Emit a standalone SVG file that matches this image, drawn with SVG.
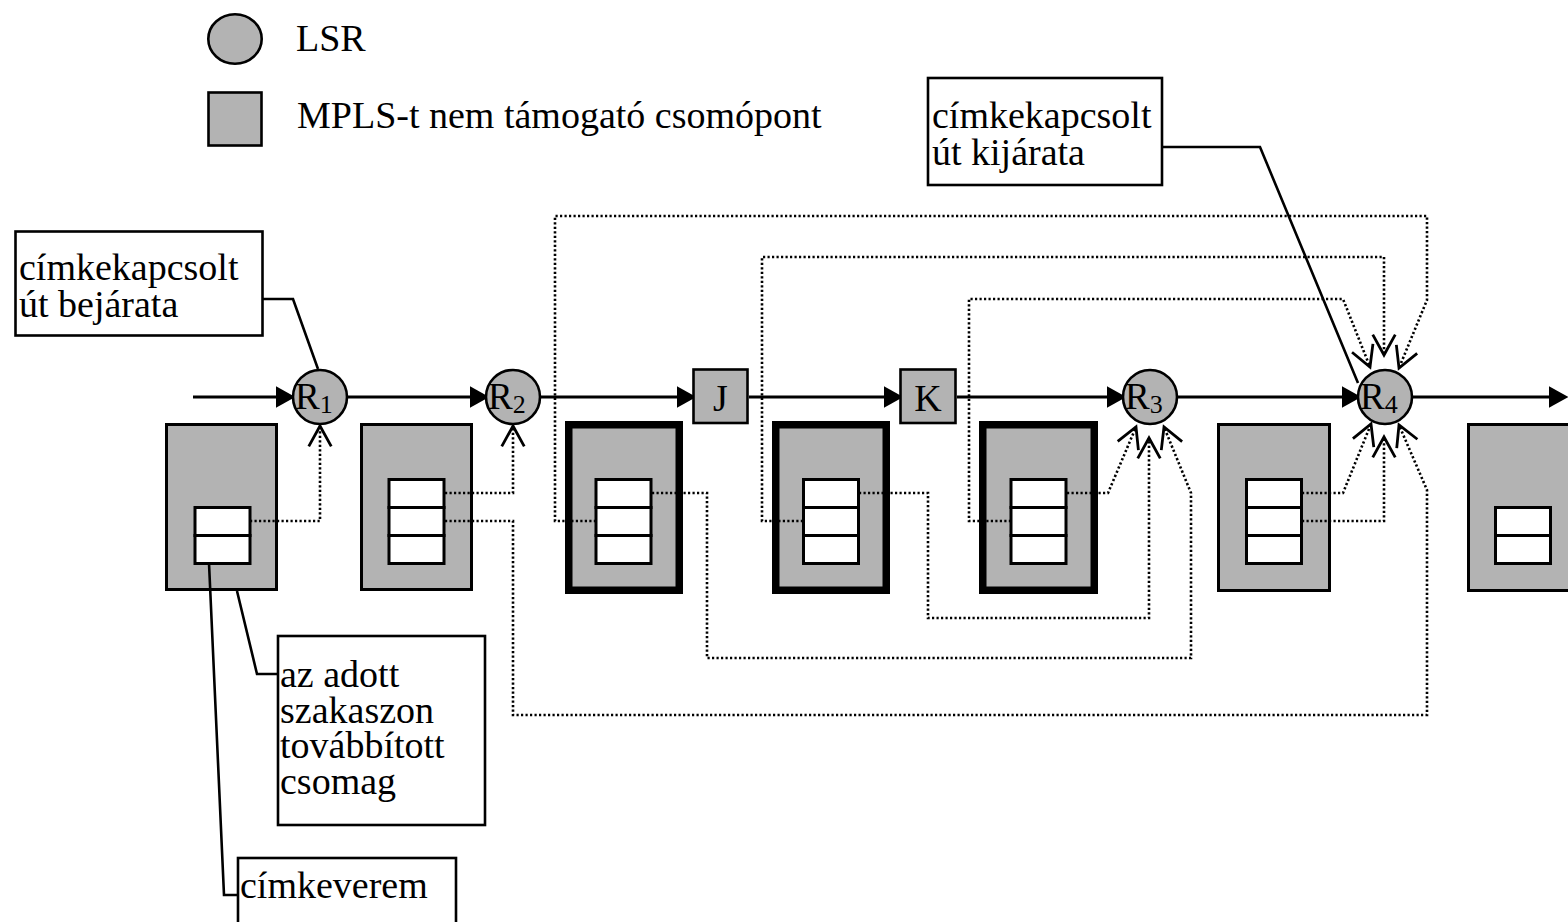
<svg xmlns="http://www.w3.org/2000/svg" width="1568" height="922" viewBox="0 0 1568 922">
  <style>
    .txt { font-family: "Liberation Serif", "Times New Roman", serif; font-size: 38px; fill: #000; }
    .rl { font-family: "Liberation Serif", "Times New Roman", serif; font-size: 37px; fill: #000; }
    .sub { font-size: 26px; }
    .node { fill: #b3b3b3; stroke: #000; stroke-width: 2.6; }
    .pkt { fill: #b3b3b3; stroke: #000; stroke-width: 3; }
    .pkt-thick { fill: #b3b3b3; stroke: #000; stroke-width: 7.5; }
    .cell { fill: #fff; stroke: #000; stroke-width: 3; }
    .box { fill: #fff; stroke: #000; stroke-width: 2.6; }
    .lead { fill: none; stroke: #000; stroke-width: 2.6; }
    .flow { fill: none; stroke: #000; stroke-width: 3; marker-end: url(#arrow); }
    .lbl { fill: none; stroke: #000; stroke-width: 2.6; stroke-dasharray: 2.2 2.3; marker-end: url(#chev); }
  </style>
  <defs>
    <marker id="arrow" markerUnits="userSpaceOnUse" markerWidth="30" markerHeight="30" viewBox="-24 -12 28 24" refX="-4" refY="0" orient="auto" overflow="visible">
      <path d="M-18,-10 L0,0 L-18,10 Z" fill="#000" stroke="none"/>
    </marker>
    <marker id="chev" markerUnits="userSpaceOnUse" markerWidth="30" markerHeight="30" viewBox="-24 -14 28 28" refX="0" refY="0" orient="auto" overflow="visible">
      <path d="M-19,-10.5 L0,0 L-19,10.5" fill="none" stroke="#000" stroke-width="2.6" stroke-dasharray="none"/>
    </marker>
  </defs>

  <!-- legend -->
  <g id="legend">
    <ellipse cx="235" cy="39" rx="26.7" ry="24.7" class="node"/>
    <text x="296" y="51" class="txt">LSR</text>
    <rect x="208.5" y="92.5" width="53" height="53" class="node"/>
    <text x="297" y="128" class="txt">MPLS-t nem támogató csomópont</text>
  </g>

  <!-- packets on each hop -->
  <g id="pkt0">
    <rect x="166.5" y="424.5" width="110" height="165" class="pkt"/>
    <rect x="195" y="507.5" width="55" height="28" class="cell"/>
    <rect x="195" y="535.5" width="55" height="28" class="cell"/>
  </g>
  <g id="pkt1">
    <rect x="361.5" y="424.5" width="110" height="165" class="pkt"/>
    <rect x="389" y="479.5" width="55" height="28" class="cell"/>
    <rect x="389" y="507.5" width="55" height="28" class="cell"/>
    <rect x="389" y="535.5" width="55" height="28" class="cell"/>
  </g>
  <g id="pkt2">
    <rect x="568.75" y="424.75" width="110.5" height="165.5" class="pkt-thick"/>
    <rect x="596" y="479.5" width="55" height="28" class="cell"/>
    <rect x="596" y="507.5" width="55" height="28" class="cell"/>
    <rect x="596" y="535.5" width="55" height="28" class="cell"/>
  </g>
  <g id="pkt3">
    <rect x="775.75" y="424.75" width="110.5" height="165.5" class="pkt-thick"/>
    <rect x="803.5" y="479.5" width="55" height="28" class="cell"/>
    <rect x="803.5" y="507.5" width="55" height="28" class="cell"/>
    <rect x="803.5" y="535.5" width="55" height="28" class="cell"/>
  </g>
  <g id="pkt4">
    <rect x="982.75" y="424.75" width="111.5" height="165.5" class="pkt-thick"/>
    <rect x="1011" y="479.5" width="55" height="28" class="cell"/>
    <rect x="1011" y="507.5" width="55" height="28" class="cell"/>
    <rect x="1011" y="535.5" width="55" height="28" class="cell"/>
  </g>
  <g id="pkt5">
    <rect x="1218.5" y="424.5" width="111" height="166" class="pkt"/>
    <rect x="1246.5" y="479.5" width="55" height="28" class="cell"/>
    <rect x="1246.5" y="507.5" width="55" height="28" class="cell"/>
    <rect x="1246.5" y="535.5" width="55" height="28" class="cell"/>
  </g>
  <g id="pkt6">
    <rect x="1468.5" y="424.5" width="120" height="166" class="pkt"/>
    <rect x="1495.5" y="507.5" width="55" height="28" class="cell"/>
    <rect x="1495.5" y="535.5" width="55" height="28" class="cell"/>
  </g>

  <!-- connectors: forwarding path and label-to-router references -->
  <g id="connectors">
    <path d="M193,397 H291" class="flow"/>
    <path d="M348,397 H485" class="flow"/>
    <path d="M541,397 H692" class="flow"/>
    <path d="M749,397 H899" class="flow"/>
    <path d="M957,397 H1122" class="flow"/>
    <path d="M1178,397 H1357" class="flow"/>
    <path d="M1413,397 H1564" class="flow"/>

    <path d="M250,521 H320 V426" class="lbl"/>
    <path d="M445,493 H513 V426" class="lbl"/>
    <path d="M445,521 H513 V715 H1427 V490 L1399,425" class="lbl"/>
    <path d="M652,493 H707 V658 H1191 V493 L1164,427" class="lbl"/>
    <path d="M596,521 H555 V216 H1427 V300 L1399,368" class="lbl"/>
    <path d="M859,493 H928 V618 H1149 V438" class="lbl"/>
    <path d="M803,521 H762 V257 H1384 V355" class="lbl"/>
    <path d="M1067,493 H1108 L1136,427" class="lbl"/>
    <path d="M1011,521 H969 V299 H1343 L1370,367" class="lbl"/>
    <path d="M1302,493 H1343 L1371,424" class="lbl"/>
    <path d="M1302,521 H1384 V437" class="lbl"/>

    <!-- callout leaders -->
    <path d="M263,299 H293 L318,369" class="lead"/>
    <path d="M1162,147 H1260 L1358,383" class="lead"/>
    <path d="M237,591 L257,674 H278" class="lead"/>
    <path d="M209,563 L224,895 H238" class="lead"/>
  </g>

  <!-- routers and plain nodes -->
  <g id="R1">
    <circle cx="320" cy="397" r="27" class="node"/>
    <text x="295" y="409" class="rl">R<tspan class="sub" dy="4">1</tspan></text>
  </g>
  <g id="R2">
    <circle cx="513" cy="397" r="27" class="node"/>
    <text x="488" y="409" class="rl">R<tspan class="sub" dy="4">2</tspan></text>
  </g>
  <g id="J">
    <rect x="693.5" y="369.5" width="54" height="53.5" class="node"/>
    <text x="720.5" y="411" class="txt" text-anchor="middle">J</text>
  </g>
  <g id="K">
    <rect x="900.5" y="369.5" width="55" height="53.5" class="node"/>
    <text x="928" y="411" class="txt" text-anchor="middle">K</text>
  </g>
  <g id="R3">
    <circle cx="1150" cy="397" r="27" class="node"/>
    <text x="1125" y="409" class="rl">R<tspan class="sub" dy="4">3</tspan></text>
  </g>
  <g id="R4">
    <circle cx="1385" cy="397" r="27" class="node"/>
    <text x="1360" y="409" class="rl">R<tspan class="sub" dy="4">4</tspan></text>
  </g>

  <!-- callouts -->
  <g id="callout-ingress">
    <rect x="15.5" y="231.5" width="247" height="104" class="box"/>
    <text x="19" y="280" class="txt">címkekapcsolt</text>
    <text x="19" y="317" class="txt">út bejárata</text>
  </g>
  <g id="callout-egress">
    <rect x="928" y="78" width="234" height="107" class="box"/>
    <text x="932" y="128" class="txt">címkekapcsolt</text>
    <text x="932" y="165" class="txt">út kijárata</text>
  </g>
  <g id="callout-packet">
    <rect x="278" y="636" width="207" height="189" class="box"/>
    <text x="280" y="687" class="txt">az adott</text>
    <text x="280" y="722.5" class="txt">szakaszon</text>
    <text x="280" y="758" class="txt">továbbított</text>
    <text x="280" y="793.5" class="txt">csomag</text>
  </g>
  <g id="callout-stack">
    <rect x="238" y="858" width="218" height="80" class="box"/>
    <text x="240" y="898" class="txt">címkeverem</text>
  </g>
</svg>
